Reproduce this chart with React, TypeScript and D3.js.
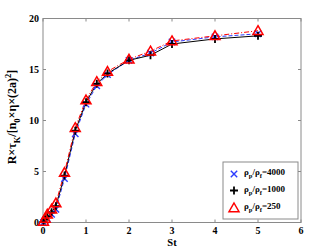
import * as d3 from 'd3';

// Stokes numbers and the three density-ratio series
const st = [0.01, 0.05, 0.1, 0.2, 0.3, 0.5, 0.75, 1, 1.25, 1.5, 2, 2.5, 3, 4, 5];
const ratio4000 = [0.0, 0.2, 0.4, 0.8, 1.3, 4.3, 8.7, 11.6, 13.4, 14.5, 15.9, 16.6, 17.7, 18.2, 18.5];
const ratio1000 = [0.05, 0.3, 0.6, 1.0, 1.6, 4.6, 9.0, 11.8, 13.6, 14.6, 15.9, 16.4, 17.5, 18.0, 18.3];
const ratio250 = [0.1, 0.4, 0.8, 1.3, 1.9, 4.9, 9.3, 12.0, 13.8, 14.8, 16.0, 16.8, 17.8, 18.3, 18.8];
const xTicks = [0, 1, 2, 3, 4, 5, 6];
const yTicks = [0, 5, 10, 15, 20];
const legendLabels = ['4000', '1000', '250'];

const W = 332;
const H = 250;
const m = { left: 43, right: 31, top: 18.5, bottom: 27.5 };
const font = '"Liberation Serif", "Times New Roman", serif';

export default function App() {
  const x = d3.scaleLinear().domain([0, 6]).range([m.left, W - m.right]);
  const y = d3.scaleLinear().domain([0, 20]).range([H - m.bottom, m.top]);

  const line = d3.line<number>().x((_, i) => x(st[i])).y(d => y(d));

  const series = [
    { data: ratio4000, color: '#2b3bff', dash: '4,2', marker: 'x' },
    { data: ratio1000, color: '#000', dash: '', marker: 'plus' },
    { data: ratio250, color: '#ff0000', dash: '5,2,1,2', marker: 'tri' },
  ];

  const drawMarker = (type: string, cx: number, cy: number, color: string, key: string) => {
    if (type === 'x') {
      const s = 3.2;
      return (
        <path key={key} d={`M${cx - s},${cy - s}L${cx + s},${cy + s}M${cx - s},${cy + s}L${cx + s},${cy - s}`}
          stroke={color} strokeWidth={1.4} fill="none" />
      );
    }
    if (type === 'plus') {
      const s = 4;
      return (
        <path key={key} d={`M${cx - s},${cy}L${cx + s},${cy}M${cx},${cy - s}L${cx},${cy + s}`}
          stroke={color} strokeWidth={1.8} fill="none" />
      );
    }
    const s = 5;
    return (
      <path key={key} d={`M${cx},${cy - s}L${cx + s},${cy + s * 0.75}L${cx - s},${cy + s * 0.75}Z`}
        stroke={color} strokeWidth={1.5} fill="none" />
    );
  };

  const frame = '#8a8a8a';
  const x0 = x(0), x1 = x(6), y0 = y(0), y1 = y(20);

  const legX = 223, legY = 162, legW = 75, legH = 57;
  const rows = [174, 190.5, 208];

  return (
    <svg width={W} height={H} style={{ position: 'absolute', left: 0, top: 0 }} fontFamily={font}>
      <rect width={W} height={H} fill="#fff" />
      {/* frame */}
      <rect x={x0} y={y1} width={x1 - x0} height={y0 - y1} fill="none" stroke={frame} strokeWidth={1} />
      {xTicks.map(t => (
        <g key={'xt' + t}>
          <line x1={x(t)} x2={x(t)} y1={y0} y2={y0 - 3} stroke={frame} />
          <line x1={x(t)} x2={x(t)} y1={y1} y2={y1 + 3} stroke={frame} />
          <text x={x(t)} y={y0 + 11} textAnchor="middle" fontSize={10} fontWeight="bold">{t}</text>
        </g>
      ))}
      {yTicks.map(t => (
        <g key={'yt' + t}>
          <line x1={x0} x2={x0 + 3} y1={y(t)} y2={y(t)} stroke={frame} />
          <line x1={x1} x2={x1 - 3} y1={y(t)} y2={y(t)} stroke={frame} />
          <text x={x0 - 4} y={y(t) + 3.5} textAnchor="end" fontSize={10} fontWeight="bold">{t}</text>
        </g>
      ))}
      {/* series lines */}
      {series.map((s, i) => (
        <path key={'l' + i} d={line(s.data) || ''} fill="none" stroke={s.color} strokeWidth={1}
          strokeDasharray={s.dash || undefined} />
      ))}
      {/* markers */}
      {series.map((s, i) => s.data.map((v, j) => drawMarker(s.marker, x(st[j]), y(v), s.color, `m${i}-${j}`)))}
      {/* axis labels */}
      <text x={x(3)} y={246} textAnchor="middle" fontSize={10.5} fontWeight="bold">St</text>
      <text transform={`translate(16,117) rotate(-90)`} textAnchor="middle" fontSize={12} fontWeight="bold">
        R×τ<tspan fontSize={8.5} dy={3.5}>K</tspan><tspan dy={-3.5}>/[n</tspan><tspan fontSize={8.5} dy={3.5}>0</tspan>
        <tspan dy={-3.5}>×η×(2a)</tspan><tspan fontSize={8.5} dy={-5}>2</tspan><tspan dy={5}>]</tspan>
      </text>
      {/* legend */}
      <rect x={legX} y={legY} width={legW} height={legH} fill="#fff" stroke={frame} strokeWidth={1} />
      {series.map((s, i) => (
        <g key={'lg' + i}>
          {drawMarker(s.marker, 234, rows[i], s.color, 'lm' + i)}
          <text x={244} y={rows[i] + 1} fontSize={9} fontWeight="bold">
            ρ<tspan fontSize={6.5} dy={3}>p</tspan><tspan dy={-3}>/ρ</tspan><tspan fontSize={6.5} dy={3}>f</tspan>
            <tspan dy={-3}>={legendLabels[i]}</tspan>
          </text>
        </g>
      ))}
    </svg>
  );
}
